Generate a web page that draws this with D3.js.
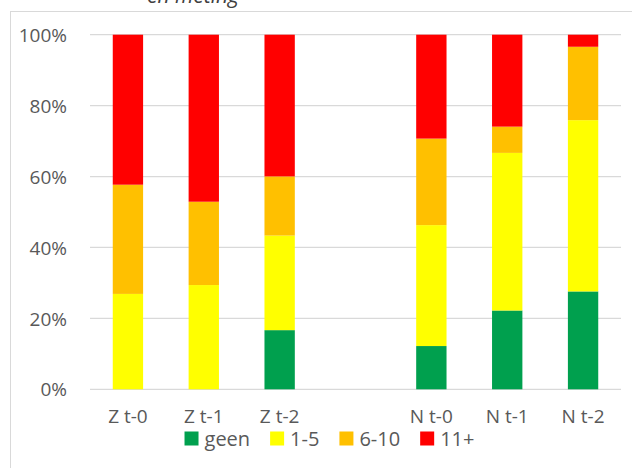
<!DOCTYPE html>
<html>
<head>
<meta charset="utf-8">
<script src="https://cdn.jsdelivr.net/npm/d3@7"></script>
<style>
  html, body { margin: 0; padding: 0; background: #fff; }
  svg { display: block; font-family: "Open Sans", Lato, sans-serif; }
</style>
</head>
<body>
<svg id="chart" width="632" height="468"></svg>
<script>
// ---- data (percentages) ----
const categories = ["Z t-0", "Z t-1", "Z t-2", "", "N t-0", "N t-1", "N t-2"];
const seriesNames = ["geen", "1-5", "6-10", "11+"];
const geen    = [0,    0,    16.7, 0, 12.2, 22.2, 27.6];
const een5    = [26.9, 29.4, 26.7, 0, 34.1, 44.4, 48.3];
const zes10   = [30.8, 23.5, 16.7, 0, 24.4,  7.4, 20.7];
const elfPlus = [42.3, 47.1, 40.0, 0, 29.3, 25.9,  3.4];
const yTicks = [0, 0.2, 0.4, 0.6, 0.8, 1.0];
const colors = ["#00A04E", "#FFFF00", "#FFC000", "#FF0000"];
const titleText = "en meting";

const seriesValues = [geen, een5, zes10, elfPlus];
const rows = categories.map((c, i) => {
  const r = { cat: c };
  seriesNames.forEach((s, k) => r[s] = seriesValues[k][i]);
  return r;
});

const FONT = "'Open Sans', Lato, sans-serif";
const svg = d3.select("#chart");

// chart frame
svg.append("rect")
  .attr("x", 10.5).attr("y", 11.5)
  .attr("width", 640).attr("height", 480)
  .attr("fill", "#fff").attr("stroke", "#D9D9D9").attr("stroke-width", 1);

// title (mostly cut off at the top, as in the reference)
svg.append("text")
  .attr("x", 147).attr("y", 3)
  .attr("font-size", 21).attr("font-style", "italic")
  .attr("fill", "#404040")
  .text(titleText);

const x = d3.scaleBand().domain(categories.map((c, i) => i))
  .range([90, 621]).paddingInner(0.6).paddingOuter(0.3);
const y = d3.scaleLinear().domain([0, 1]).range([389.3, 34.7]);

// gridlines
svg.append("g").selectAll("line").data(yTicks).join("line")
  .attr("x1", 90).attr("x2", 621)
  .attr("y1", d => y(d)).attr("y2", d => y(d))
  .attr("stroke", "#D9D9D9").attr("stroke-width", 1.3);

// y axis labels
const yAxis = d3.axisLeft(y).tickValues(yTicks).tickFormat(d3.format(".0%")).tickSize(0).tickPadding(0);
const yg = svg.append("g").attr("transform", "translate(67,0)").call(yAxis);
yg.select(".domain").remove();
yg.selectAll("text").attr("font-size", 19).attr("fill", "#595959")
  .attr("font-family", FONT).attr("dy", "0.35em");

// stacked bars
const stack = d3.stack().keys(seriesNames).offset(d3.stackOffsetExpand);
const layers = stack(rows);
svg.append("g").selectAll("g").data(layers).join("g")
  .attr("fill", (d, i) => colors[i])
  .selectAll("rect").data(d => d.map((v, i) => ({ v, i })).filter(d => !isNaN(d.v[1]) && d.v[1] - d.v[0] > 0))
  .join("rect")
  .attr("x", d => x(d.i))
  .attr("width", x.bandwidth())
  .attr("y", d => y(d.v[1]))
  .attr("height", d => y(d.v[0]) - y(d.v[1]));

// x axis labels
const xAxis = d3.axisBottom(x).tickFormat(i => categories[i]).tickSize(0).tickPadding(0);
const xg = svg.append("g").attr("transform", "translate(0,423)").call(xAxis);
xg.select(".domain").remove();
xg.selectAll("text").attr("font-size", 19).attr("fill", "#595959")
  .attr("font-family", FONT).attr("dy", 0);

// legend
const lg = svg.append("g");
const items = lg.selectAll("g").data(seriesNames).join("g");
items.append("rect").attr("width", 14).attr("height", 14).attr("y", 431.5)
  .attr("fill", (d, i) => colors[i]);
items.append("text").attr("x", 20).attr("y", 445.5)
  .attr("font-size", 20).attr("fill", "#595959").attr("font-family", FONT).text(d => d);
const widths = [];
items.each(function() {
  widths.push(20 + d3.select(this).select("text").node().getComputedTextLength());
});
const gap = 20;
const total = widths.reduce((a, b) => a + b, 0) + gap * (widths.length - 1);
let cx = 329.5 - total / 2;
items.attr("transform", (d, i) => {
  const t = `translate(${cx},0)`;
  cx += widths[i] + gap;
  return t;
});
</script>
</body>
</html>
